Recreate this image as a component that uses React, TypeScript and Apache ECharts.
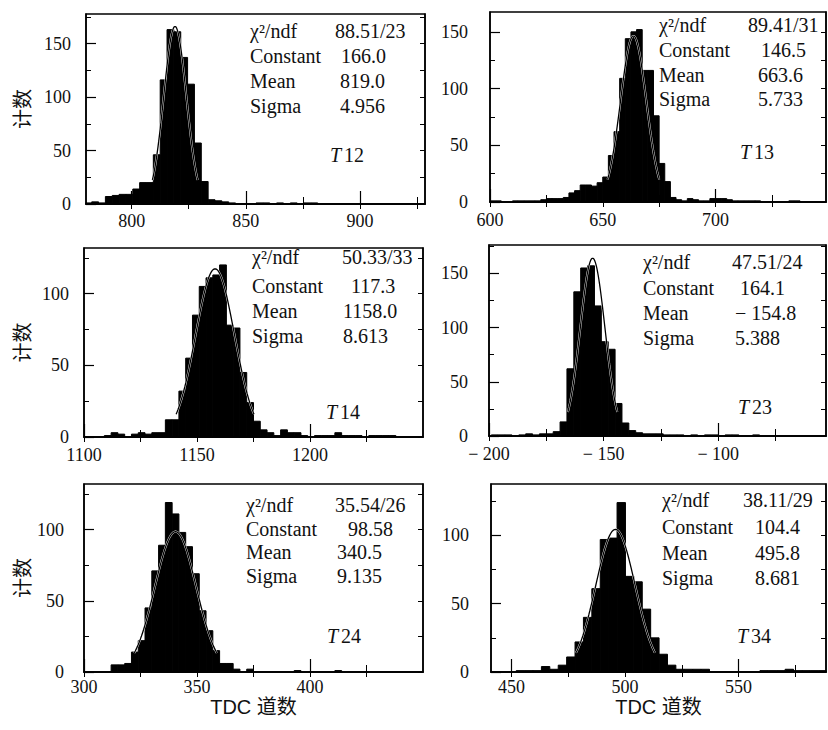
import React, { useEffect, useRef } from "react";
import * as echarts from "echarts";

// ---------- data ----------
const panelTags = ["12", "13", "14", "23", "24", "34"];
const chi2Texts = ["88.51/23", "89.41/31", "50.33/33", "47.51/24", "35.54/26", "38.11/29"];
const constantTexts = ["166.0", "146.5", "117.3", "164.1", "98.58", "104.4"];
const meanTexts = ["819.0", "663.6", "1158.0", "\u2212 154.8", "340.5", "495.8"];
const sigmaTexts = ["4.956", "5.733", "8.613", "5.388", "9.135", "8.681"];

const fitConstant = [166.0, 146.5, 117.3, 164.1, 98.58, 104.4];
const fitMean = [819.0, 663.6, 1158.0, -154.8, 340.5, 495.8];
const fitSigma = [4.956, 5.733, 8.613, 5.388, 9.135, 8.681];

const xMin = [780, 600, 1100, -200, 300, 441];
const xMax = [928.5, 749, 1250, -53, 450, 588.5];
const yMax = [177.6, 167.5, 131.8, 176.2, 132, 137.6];

const xMajorTicks = [
  [800, 850, 900],
  [600, 650, 700],
  [1100, 1150, 1200],
  [-200, -150, -100],
  [300, 350, 400],
  [450, 500, 550],
];
const xMinorTicks = [
  [825, 875, 925],
  [625, 675, 725],
  [1125, 1175, 1225],
  [-175, -125, -75],
  [325, 375, 425],
  [475, 525, 575],
];
const yMajorTicks = [0, 50, 100, 150];
const yMinorTicks = [25, 75, 125, 175];

const binStart = [779.5, 600, 1100, -199, 300, 441];
const binWidth = [3, 2.5, 3, 3, 3, 3.7];

const countsT12 = [1, 2, 1, 7, 8, 9, 9, 14, 20, 20, 46, 116, 163, 161, 137, 112, 57, 21, 4, 3, 2, 1, 0, 0, 0, 1, 1, 0, 1, 0, 1, 0, 1, 1];
const countsT13 = [
  1, 1, 0, 0, 1, 1, 1, 1, 1, 2,
  3, 3, 3, 4, 8, 10, 15, 15, 14, 17,
  22, 41, 62, 109, 144, 150, 152, 116, 116, 76,
  34, 18, 4, 2, 1, 3, 2, 1, 1, 3,
  3, 3, 2, 1, 1, 1, 1, 1, 0, 0,
  0, 0, 0, 1, 1,
];
const countsT14 = [
  0, 0, 0, 1, 3, 2, 0, 2, 3, 2,
  3, 3, 12, 12, 32, 55, 85, 105, 111, 113,
  120, 78, 76, 45, 24, 11, 5, 3, 1, 5,
  3, 3, 1, 0, 1, 1, 1, 3, 1, 1,
  1, 0, 1, 1, 1, 1,
];
const countsT23 = [
  1, 1, 1, 0, 1, 2, 1, 2, 2, 4,
  13, 62, 133, 155, 157, 120, 87, 80, 30, 12,
  5, 3, 2, 2, 2, 1, 1, 1, 0, 1,
  0, 1, 1, 0, 1, 1, 0, 0, 1,
];
const countsT24 = [
  0, 0, 0, 0, 5, 5, 6, 14, 22, 45,
  71, 89, 119, 111, 98, 88, 69, 43, 29, 15,
  6, 6, 2, 0, 2, 0, 0, 0, 0, 0,
  0, 1, 0, 0, 0, 0, 0, 1,
];
const countsT34 = [
  0, 0, 0, 1, 1, 1, 4, 2, 5, 11,
  22, 40, 61, 97, 98, 124, 70, 66, 46, 25,
  13, 5, 2, 2, 2, 2, 0, 0, 0, 0,
  0, 0, 1, 1, 1, 2, 1, 1, 1, 1,
];
const allCounts = [countsT12, countsT13, countsT14, countsT23, countsT24, countsT34];

const yTitle = "计数";
const xTitle = "TDC 道数";

// ---------- layout (positions / sizes) ----------
const gridBoxes = [
  [86, 14, 339, 190],
  [490, 12, 336, 190],
  [84, 248, 339, 189],
  [489, 245, 337, 191],
  [84, 484, 339, 188],
  [491, 484, 335, 188],
];
const yLabelMargin = [15, 22, 15, 21, 20, 22];
const xLabelMargin = [8, 9, 9, 9, 6, 6];
const yNameGap = [55, 0, 53, 0, 53, 0];
const statLabelX = [250, 659, 252, 643, 246, 662];
const statValueX = [
  [335, 341, 340, 340],
  [748, 761, 758, 758],
  [342, 351, 343, 343],
  [732, 740, 735, 735],
  [335, 348, 337, 337],
  [743, 755, 755, 755],
];
const statRowY = [
  [31, 56, 81, 106],
  [25, 50, 75, 99],
  [257, 286, 311, 336],
  [262, 288, 313, 338],
  [505, 529, 552, 576],
  [500, 527, 553, 578],
];
const tagPos = [
  [330, 155],
  [740, 152],
  [326, 412],
  [738, 407],
  [327, 636],
  [737, 636],
];

const SERIF = "'Liberation Serif', 'DejaVu Serif', serif";
const INK = "#111";

function fmt(v: number): string {
  return v < 0 ? "\u2212 " + Math.abs(v) : String(v);
}

function fitPoints(i: number): number[][] {
  const c = fitConstant[i];
  const m = fitMean[i];
  const s = fitSigma[i];
  const pts: number[][] = [];
  const n = 80;
  for (let k = 0; k <= n; k++) {
    const x = m - 2 * s + (4 * s * k) / n;
    pts.push([x, c * Math.exp(-0.5 * ((x - m) / s) * ((x - m) / s))]);
  }
  return pts;
}

function buildOption() {
  const grid: any[] = [];
  const xAxis: any[] = [];
  const yAxis: any[] = [];
  const series: any[] = [];
  const graphic: any[] = [];

  for (let i = 0; i < 6; i++) {
    const [gl, gt, gw, gh] = gridBoxes[i];
    grid.push({
      left: gl,
      top: gt,
      width: gw,
      height: gh,
      show: true,
      borderColor: "#000",
      borderWidth: 1.5,
      backgroundColor: "transparent",
      containLabel: false,
      outerBoundsMode: "none",
    });

    const common = { type: "value", gridIndex: i, min: xMin[i], max: xMax[i], splitLine: { show: false } };
    const isBottomRow = i >= 4;
    xAxis.push({
      ...common,
      position: "bottom",
      axisLine: { show: true, lineStyle: { color: "#000", width: 1.5 } },
      axisTick: { show: true, inside: true, length: 13, customValues: xMajorTicks[i], lineStyle: { color: "#000", width: 1.2 } },
      axisLabel: {
        show: true,
        customValues: xMajorTicks[i],
        formatter: (v: number) => fmt(v),
        fontFamily: SERIF,
        fontSize: 18,
        color: INK,
        margin: xLabelMargin[i],
      },
      name: isBottomRow ? xTitle : "",
      nameLocation: "middle",
      nameGap: 25,
      nameMoveOverlap: false,
      nameTextStyle: { fontFamily: "'Liberation Sans', 'Noto Sans CJK SC', sans-serif", fontSize: 20, color: INK },
    });
    xAxis.push({
      ...common,
      position: "bottom",
      axisLine: { show: false },
      axisTick: { show: true, inside: true, length: 7, customValues: xMinorTicks[i], lineStyle: { color: "#000", width: 1 } },
      axisLabel: { show: false },
    });
    xAxis.push({
      ...common,
      position: "top",
      axisLine: { show: true, lineStyle: { color: "#000", width: 1.5 } },
      axisTick: {
        show: true,
        inside: true,
        length: 5,
        customValues: xMajorTicks[i].concat(xMinorTicks[i]),
        lineStyle: { color: "#000", width: 1 },
      },
      axisLabel: { show: false },
    });

    const ycommon = { type: "value", gridIndex: i, min: 0, max: yMax[i], splitLine: { show: false } };
    const hasTitle = i % 2 === 0;
    const minors = yMinorTicks.filter((v) => v < yMax[i]);
    yAxis.push({
      ...ycommon,
      position: "left",
      axisLine: { show: true, lineStyle: { color: "#000", width: 1.5 } },
      axisTick: { show: true, inside: true, length: 10, customValues: yMajorTicks, lineStyle: { color: "#000", width: 1.2 } },
      axisLabel: {
        show: true,
        customValues: yMajorTicks,
        fontFamily: SERIF,
        fontSize: 18,
        color: INK,
        margin: yLabelMargin[i],
      },
      name: hasTitle ? yTitle : "",
      nameLocation: "middle",
      nameGap: yNameGap[i],
      nameMoveOverlap: false,
      nameTextStyle: { fontFamily: "'Noto Sans CJK SC', sans-serif", fontSize: 20, color: INK },
    });
    yAxis.push({
      ...ycommon,
      position: "left",
      axisLine: { show: false },
      axisTick: { show: true, inside: true, length: 5, customValues: minors, lineStyle: { color: "#000", width: 1 } },
      axisLabel: { show: false },
    });
    yAxis.push({
      ...ycommon,
      position: "right",
      axisLine: { show: true, lineStyle: { color: "#000", width: 1.5 } },
      axisTick: {
        show: true,
        inside: true,
        length: 5,
        customValues: yMajorTicks.concat(minors),
        lineStyle: { color: "#000", width: 1 },
      },
      axisLabel: { show: false },
    });

    const counts = allCounts[i];
    const histData = counts
      .map((c, k) => [binStart[i] + k * binWidth[i], binStart[i] + (k + 1) * binWidth[i], c])
      .filter((d) => d[2] > 0);

    series.push({
      type: "custom",
      name: "T" + panelTags[i] + " counts",
      xAxisIndex: 3 * i,
      yAxisIndex: 3 * i,
      encode: { x: [0, 1], y: 2 },
      data: histData,
      z: 2,
      renderItem: (params: any, api: any) => {
        const p0 = api.coord([api.value(0), api.value(2)]);
        const p1 = api.coord([api.value(1), 0]);
        const cs = params.coordSys;
        const rect = echarts.graphic.clipRectByRect(
          { x: p0[0], y: p0[1], width: p1[0] - p0[0], height: p1[1] - p0[1] },
          { x: cs.x, y: cs.y, width: cs.width, height: cs.height }
        );
        if (!rect) return null;
        return {
          type: "rect",
          shape: rect,
          style: { fill: "#000", stroke: "#000", lineWidth: 1 },
        };
      },
    });

    const fit = fitPoints(i);
    series.push({
      type: "line",
      name: "fit halo " + i,
      xAxisIndex: 3 * i,
      yAxisIndex: 3 * i,
      data: fit,
      symbol: "none",
      z: 3,
      lineStyle: { color: "#fff", width: 2 },
      silent: true,
    });
    series.push({
      type: "line",
      name: "T" + panelTags[i] + " gauss fit",
      xAxisIndex: 3 * i,
      yAxisIndex: 3 * i,
      data: fit,
      symbol: "none",
      z: 4,
      lineStyle: { color: "#000", width: 1.3 },
      silent: true,
    });

    const labels = ["\u03c7\u00b2/ndf", "Constant", "Mean", "Sigma"];
    const values = [chi2Texts[i], constantTexts[i], meanTexts[i], sigmaTexts[i]];
    for (let r = 0; r < 4; r++) {
      graphic.push({
        type: "text",
        x: statLabelX[i],
        y: statRowY[i][r],
        z: 10,
        style: { text: labels[r], fontFamily: SERIF, fontSize: 20, fill: INK, verticalAlign: "middle", align: "left" },
      });
      graphic.push({
        type: "text",
        x: statValueX[i][r],
        y: statRowY[i][r],
        z: 10,
        style: { text: values[r], fontFamily: SERIF, fontSize: 20, fill: INK, verticalAlign: "middle", align: "left" },
      });
    }
    graphic.push({
      type: "text",
      x: tagPos[i][0],
      y: tagPos[i][1],
      z: 10,
      style: {
        text: "{t|T}" + panelTags[i],
        rich: { t: { fontStyle: "italic", fontFamily: SERIF, fontSize: 20, fill: INK, padding: [0, 3, 0, 0] } },
        fontFamily: SERIF,
        fontSize: 20,
        fill: INK,
        verticalAlign: "middle",
        align: "left",
      },
    });
  }

  return {
    animation: false,
    backgroundColor: "#fff",
    grid,
    xAxis,
    yAxis,
    series,
    graphic,
  };
}

export default function App() {
  const ref = useRef<HTMLDivElement>(null);
  useEffect(() => {
    if (!ref.current) return;
    const chart = echarts.init(ref.current, undefined, { renderer: "svg" });
    chart.setOption(buildOption() as any);
    return () => chart.dispose();
  }, []);
  return <div ref={ref} style={{ position: "absolute", left: 0, top: 0, width: 828, height: 730 }} />;
}
